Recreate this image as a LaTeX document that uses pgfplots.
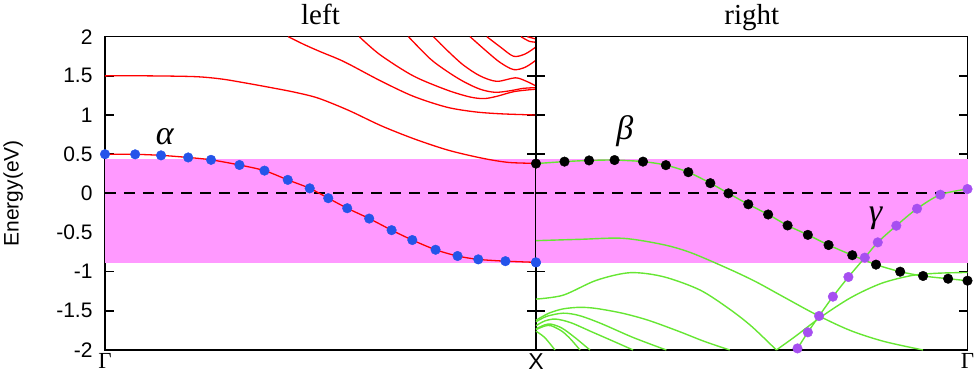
\documentclass[border=0pt]{standalone}
\usepackage{fontspec}
\setmainfont{Liberation Sans}
\newfontfamily\seriffont{Liberation Serif}
\usepackage{pgfplots}
\usepackage{pgfplotstable}
\pgfplotsset{compat=1.18}

\definecolor{bandred}{HTML}{FF0000}
\definecolor{bandgreen}{HTML}{66E633}
\definecolor{gappink}{HTML}{FF99FF}
\definecolor{dotblue}{HTML}{2454EA}
\definecolor{dotpurple}{HTML}{A64FF0}

% left panel: Gamma -> X (x runs 0..1)
\pgfplotstableread{
x y
0.000 0.500
0.070 0.498
0.130 0.485
0.193 0.458
0.246 0.428
0.312 0.362
0.370 0.290
0.424 0.172
0.475 0.064
0.518 -0.062
0.562 -0.190
0.613 -0.322
0.665 -0.470
0.713 -0.596
0.767 -0.720
0.818 -0.800
0.866 -0.843
0.929 -0.866
1.000 -0.881
}\tabAlpha
\pgfplotstableread{
x y
0.000 1.500
0.100 1.500
0.209 1.490
0.270 1.460
0.325 1.410
0.385 1.350
0.441 1.290
0.495 1.215
0.565 1.060
0.642 0.860
0.720 0.690
0.797 0.550
0.874 0.450
0.936 0.395
1.000 0.383
}\tabRedA
\pgfplotstableread{
x y
0.425 2.000
0.462 1.900
0.499 1.810
0.555 1.680
0.638 1.440
0.715 1.240
0.793 1.100
0.859 1.040
0.920 1.015
1.000 1.000
}\tabRedB
\pgfplotstableread{
x y
0.590 2.000
0.638 1.770
0.715 1.500
0.793 1.320
0.847 1.230
0.880 1.210
0.910 1.240
0.950 1.300
1.000 1.330
}\tabRedC
\pgfplotstableread{
x y
0.704 2.000
0.754 1.720
0.793 1.560
0.831 1.430
0.870 1.330
0.905 1.290
0.940 1.310
0.970 1.340
1.000 1.350
}\tabRedD
\pgfplotstableread{
x y
0.762 2.000
0.793 1.830
0.831 1.640
0.870 1.500
0.909 1.430
0.952 1.475
0.978 1.430
1.000 1.370
}\tabRedE
\pgfplotstableread{
x y
0.847 2.000
0.886 1.810
0.917 1.670
0.948 1.580
0.975 1.610
1.000 1.700
}\tabRedF
\pgfplotstableread{
x y
0.886 2.000
0.917 1.870
0.948 1.750
0.975 1.780
1.000 1.870
}\tabRedG
\pgfplotstableread{
x y
0.965 2.000
0.985 1.940
1.000 1.930
}\tabRedH
\pgfplotstableread{
x y
0.980 2.000
1.000 1.970
}\tabRedI

% right panel: X -> Gamma (x runs 0..1)
\pgfplotstableread{
x y
0.000 0.380
0.066 0.405
0.123 0.420
0.182 0.425
0.248 0.405
0.301 0.360
0.353 0.270
0.404 0.130
0.446 0.000
0.492 -0.140
0.538 -0.270
0.583 -0.410
0.630 -0.530
0.678 -0.660
0.733 -0.790
0.788 -0.910
0.844 -1.000
0.897 -1.055
0.955 -1.090
1.000 -1.115
}\tabBeta
\pgfplotstableread{
x y
0.606 -1.980
0.630 -1.774
0.656 -1.566
0.688 -1.319
0.724 -1.068
0.762 -0.821
0.792 -0.626
0.835 -0.413
0.883 -0.196
0.937 -0.017
1.000 0.055
}\tabGamma
\pgfplotstableread{
x y
0.000 -0.604
0.102 -0.587
0.202 -0.574
0.295 -0.655
0.360 -0.760
0.449 -0.970
0.510 -1.130
0.573 -1.320
0.650 -1.550
0.728 -1.750
0.806 -1.890
0.897 -2.000
}\tabGa
\pgfplotstableread{
x y
0.000 -1.350
0.063 -1.300
0.140 -1.110
0.218 -1.013
0.295 -1.064
0.380 -1.234
0.449 -1.480
0.500 -1.700
0.557 -2.000
}\tabGb
\pgfplotstableread{
x y
0.557 -2.000
0.600 -1.830
0.660 -1.580
0.730 -1.330
0.800 -1.150
0.870 -1.050
0.930 -1.020
1.000 -1.010
}\tabGup
\pgfplotstableread{
x y
0.000 -1.620
0.030 -1.530
0.063 -1.475
0.102 -1.455
0.140 -1.470
0.200 -1.530
0.260 -1.620
0.330 -1.760
0.390 -1.890
0.449 -2.000
}\tabGc
\pgfplotstableread{
x y
0.000 -1.640
0.025 -1.570
0.063 -1.530
0.100 -1.560
0.150 -1.660
0.225 -1.840
0.302 -2.000
}\tabGd
\pgfplotstableread{
x y
0.000 -1.690
0.020 -1.630
0.045 -1.605
0.080 -1.650
0.130 -1.770
0.180 -1.890
0.225 -2.000
}\tabGe
\pgfplotstableread{
x y
0.000 -1.730
0.020 -1.680
0.035 -1.670
0.060 -1.720
0.090 -1.840
0.125 -2.000
}\tabGf
\pgfplotstableread{
x y
0.000 -1.740
0.020 -1.695
0.035 -1.690
0.060 -1.760
0.080 -1.860
0.102 -2.000
}\tabGg
\pgfplotstableread{
x y
0.000 -1.760
0.020 -1.840
0.044 -2.000
}\tabGh
% the shaded window and the Fermi level
\pgfplotstableread{
x y
0 -0.894
1 -0.894
1 0.434
0 0.434
}\tabWindow
\pgfplotstableread{
x y
0 0
1 0
}\tabFermi

\tikzset{greek/.style={font=\seriffont\itshape\fontsize{34}{34}\selectfont}}
\pgfplotsset{
  panel/.style={
    scale only axis, height=313.3pt,
    xmin=0, xmax=1, ymin=-2, ymax=2,
    ytick={-2,-1.5,-1,-0.5,0,0.5,1,1.5,2},
    tick align=inside, major tick length=9pt,
    xtick style={draw=none},
    major tick style={line width=1.4pt, black},
    axis line style={line width=1.6pt},
    clip=false,
    /pgf/number format/assume math mode=true,
    yticklabel style={font=\fontsize{21}{24}\selectfont, xshift=-9pt},
    xticklabel style={font=\fontsize{23}{24}\selectfont},
    title style={at={(axis description cs:0.5,1)}, anchor=base, yshift=6pt,
                 inner sep=0pt, font=\seriffont\fontsize{29}{30}\selectfont},
  },
  redline/.style={bandred, line width=1.3pt, smooth},
  greenline/.style={bandgreen, line width=1.4pt, smooth},
  dots/.style={only marks, mark=*, mark size=4.8pt, mark options={fill=#1, draw=#1}},
  fermi/.style={black, line width=2pt, dash pattern={on 11pt off 8pt}},
}

\begin{document}
\begin{tikzpicture}

\begin{axis}[panel, name=left, at={(0pt,0pt)}, anchor=south west, width=431pt,
  title={left},
  xtick={0,1}, xticklabels={{\seriffont Γ}, X},
  ylabel={Energy(eV)},
  every axis y label/.style={at={(axis description cs:-0.213,0.5)}, rotate=90,
                             anchor=center, font=\fontsize{21}{24}\selectfont},
]
\addplot[draw=none, fill=gappink] table {\tabWindow} -- cycle;
\addplot[fermi] table {\tabFermi};
\addplot[redline] table {\tabRedA};
\addplot[redline] table {\tabRedB};
\addplot[redline] table {\tabRedC};
\addplot[redline] table {\tabRedD};
\addplot[redline] table {\tabRedE};
\addplot[redline] table {\tabRedF};
\addplot[redline] table {\tabRedG};
\addplot[redline] table {\tabRedH};
\addplot[redline] table {\tabRedI};
\addplot[redline] table {\tabAlpha};
\addplot[dots=dotblue] table {\tabAlpha};
\node[greek] at (axis cs:0.139,0.72) {α};
\end{axis}

\begin{axis}[panel, name=right, at={(left.south east)}, anchor=south west, width=431.5pt,
  title={right},
  xtick={1}, xticklabels={{\seriffont Γ}},
  yticklabels={},
]
\addplot[draw=none, fill=gappink] table {\tabWindow} -- cycle;
\addplot[fermi] table {\tabFermi};
\addplot[greenline] table {\tabGa};
\addplot[greenline] table {\tabGb};
\addplot[greenline] table {\tabGup};
\addplot[greenline] table {\tabGc};
\addplot[greenline] table {\tabGd};
\addplot[greenline] table {\tabGe};
\addplot[greenline] table {\tabGf};
\addplot[greenline] table {\tabGg};
\addplot[greenline] table {\tabGh};
\addplot[greenline] table {\tabBeta};
\addplot[greenline] table {\tabGamma};
\addplot[dots=black] table {\tabBeta};
\addplot[dots=dotpurple] table {\tabGamma};
% end point of alpha at X, kept on top of the shared border
\addplot[dots=dotblue] coordinates {(0,-0.881)};
\node[greek] at (axis cs:0.206,0.79) {β};
\node[greek] at (axis cs:0.787,-0.32) {γ};
\end{axis}

\pgfresetboundingbox
\path[use as bounding box] (left.south west) ++(-105pt,-27pt) rectangle ++(980pt,377pt);
\end{tikzpicture}
\end{document}
